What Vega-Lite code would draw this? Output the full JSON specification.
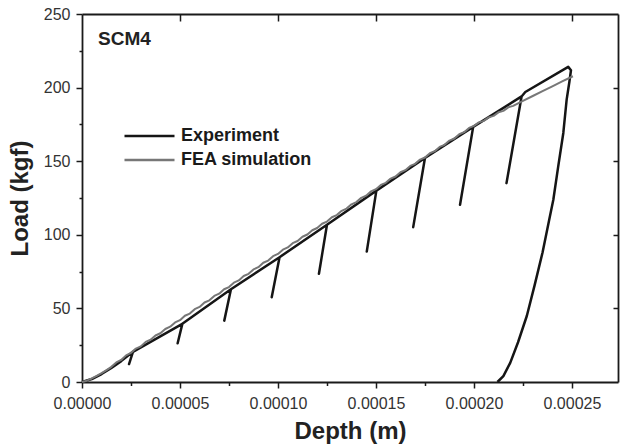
{
  "$schema": "https://vega.github.io/schema/vega-lite/v6.json",
  "width": 536,
  "height": 368,
  "autosize": "none",
  "padding": {"left": 82, "top": 14, "right": 2, "bottom": 64},
  "title": {"text": "SCM4", "anchor": "start", "orient": "top", "frame": "group", "offset": 0, "dx": 16, "dy": 58, "baseline": "alphabetic", "font": "Liberation Sans", "fontSize": 19, "fontWeight": "bold", "color": "#222222"},
  "datasets": {
    "exp": [
      {"series": "Experiment", "i": 0, "x": 0, "y": 0},
      {"series": "Experiment", "i": 1, "x": 0.000005, "y": 2.0},
      {"series": "Experiment", "i": 2, "x": 0.00001, "y": 5.4},
      {"series": "Experiment", "i": 3, "x": 0.000015, "y": 9.6},
      {"series": "Experiment", "i": 4, "x": 0.00002, "y": 14.2},
      {"series": "Experiment", "i": 5, "x": 0.000026, "y": 20.5},
      {"series": "Experiment", "i": 6, "x": 0.000024, "y": 12.2},
      {"series": "Experiment", "i": 7, "x": 0.000026, "y": 20.5},
      {"series": "Experiment", "i": 8, "x": 0.0000512, "y": 39.5},
      {"series": "Experiment", "i": 9, "x": 0.0000488, "y": 26.3},
      {"series": "Experiment", "i": 10, "x": 0.0000512, "y": 39.5},
      {"series": "Experiment", "i": 11, "x": 0.000076, "y": 63},
      {"series": "Experiment", "i": 12, "x": 0.0000726, "y": 41.7},
      {"series": "Experiment", "i": 13, "x": 0.000076, "y": 63},
      {"series": "Experiment", "i": 14, "x": 0.0001008, "y": 84.8},
      {"series": "Experiment", "i": 15, "x": 0.0000968, "y": 57.6},
      {"series": "Experiment", "i": 16, "x": 0.0001008, "y": 84.8},
      {"series": "Experiment", "i": 17, "x": 0.000125, "y": 106.8},
      {"series": "Experiment", "i": 18, "x": 0.0001209, "y": 73.5},
      {"series": "Experiment", "i": 19, "x": 0.000125, "y": 106.8},
      {"series": "Experiment", "i": 20, "x": 0.0001502, "y": 130},
      {"series": "Experiment", "i": 21, "x": 0.0001453, "y": 88.6},
      {"series": "Experiment", "i": 22, "x": 0.0001502, "y": 130},
      {"series": "Experiment", "i": 23, "x": 0.000175, "y": 152.2},
      {"series": "Experiment", "i": 24, "x": 0.000169, "y": 105.2},
      {"series": "Experiment", "i": 25, "x": 0.000175, "y": 152.2},
      {"series": "Experiment", "i": 26, "x": 0.0001996, "y": 173.3},
      {"series": "Experiment", "i": 27, "x": 0.0001929, "y": 120.4},
      {"series": "Experiment", "i": 28, "x": 0.0001996, "y": 173.3},
      {"series": "Experiment", "i": 29, "x": 0.0002243, "y": 194},
      {"series": "Experiment", "i": 30, "x": 0.0002166, "y": 135.1},
      {"series": "Experiment", "i": 31, "x": 0.0002243, "y": 194},
      {"series": "Experiment", "i": 32, "x": 0.0002262, "y": 197},
      {"series": "Experiment", "i": 33, "x": 0.0002481, "y": 214.1},
      {"series": "Experiment", "i": 34, "x": 0.0002495, "y": 211.8},
      {"series": "Experiment", "i": 35, "x": 0.0002487, "y": 204},
      {"series": "Experiment", "i": 36, "x": 0.0002473, "y": 191.8},
      {"series": "Experiment", "i": 37, "x": 0.0002456, "y": 169.2},
      {"series": "Experiment", "i": 38, "x": 0.000243, "y": 146.5},
      {"series": "Experiment", "i": 39, "x": 0.0002405, "y": 123.8},
      {"series": "Experiment", "i": 40, "x": 0.0002384, "y": 110.2},
      {"series": "Experiment", "i": 41, "x": 0.000235, "y": 88},
      {"series": "Experiment", "i": 42, "x": 0.000231, "y": 66},
      {"series": "Experiment", "i": 43, "x": 0.000227, "y": 45},
      {"series": "Experiment", "i": 44, "x": 0.0002225, "y": 27},
      {"series": "Experiment", "i": 45, "x": 0.0002185, "y": 13},
      {"series": "Experiment", "i": 46, "x": 0.000215, "y": 4},
      {"series": "Experiment", "i": 47, "x": 0.000212, "y": 0}
    ],
    "fea": [
      {"series": "FEA simulation", "x": 0, "y": 0},
      {"series": "FEA simulation", "x": 0.0000025, "y": 0.9},
      {"series": "FEA simulation", "x": 0.000005, "y": 2.4},
      {"series": "FEA simulation", "x": 0.0000075, "y": 4.1},
      {"series": "FEA simulation", "x": 0.00001, "y": 6.0},
      {"series": "FEA simulation", "x": 0.0000125, "y": 8.1},
      {"series": "FEA simulation", "x": 0.000015, "y": 10.3},
      {"series": "FEA simulation", "x": 0.0000175, "y": 13.3},
      {"series": "FEA simulation", "x": 0.00002, "y": 15.0},
      {"series": "FEA simulation", "x": 0.0000225, "y": 18.1},
      {"series": "FEA simulation", "x": 0.000025, "y": 19.8},
      {"series": "FEA simulation", "x": 0.0000275, "y": 22.7},
      {"series": "FEA simulation", "x": 0.00003, "y": 24.2},
      {"series": "FEA simulation", "x": 0.0000325, "y": 27.2},
      {"series": "FEA simulation", "x": 0.000035, "y": 28.7},
      {"series": "FEA simulation", "x": 0.0000375, "y": 31.6},
      {"series": "FEA simulation", "x": 0.00004, "y": 33.1},
      {"series": "FEA simulation", "x": 0.0000425, "y": 36.0},
      {"series": "FEA simulation", "x": 0.000045, "y": 37.6},
      {"series": "FEA simulation", "x": 0.0000475, "y": 40.5},
      {"series": "FEA simulation", "x": 0.00005, "y": 42.0},
      {"series": "FEA simulation", "x": 0.0000525, "y": 45.0},
      {"series": "FEA simulation", "x": 0.000055, "y": 46.5},
      {"series": "FEA simulation", "x": 0.0000575, "y": 49.5},
      {"series": "FEA simulation", "x": 0.00006, "y": 51.0},
      {"series": "FEA simulation", "x": 0.0000625, "y": 54.0},
      {"series": "FEA simulation", "x": 0.000065, "y": 55.5},
      {"series": "FEA simulation", "x": 0.0000675, "y": 58.5},
      {"series": "FEA simulation", "x": 0.00007, "y": 60.0},
      {"series": "FEA simulation", "x": 0.0000725, "y": 63.0},
      {"series": "FEA simulation", "x": 0.000075, "y": 64.5},
      {"series": "FEA simulation", "x": 0.0000775, "y": 67.5},
      {"series": "FEA simulation", "x": 0.00008, "y": 69.0},
      {"series": "FEA simulation", "x": 0.0000825, "y": 72.0},
      {"series": "FEA simulation", "x": 0.000085, "y": 73.5},
      {"series": "FEA simulation", "x": 0.0000875, "y": 76.5},
      {"series": "FEA simulation", "x": 0.00009, "y": 78.0},
      {"series": "FEA simulation", "x": 0.0000925, "y": 81.0},
      {"series": "FEA simulation", "x": 0.000095, "y": 82.5},
      {"series": "FEA simulation", "x": 0.0000975, "y": 85.5},
      {"series": "FEA simulation", "x": 0.0001, "y": 87.0},
      {"series": "FEA simulation", "x": 0.0001025, "y": 89.9},
      {"series": "FEA simulation", "x": 0.000105, "y": 91.4},
      {"series": "FEA simulation", "x": 0.0001075, "y": 94.3},
      {"series": "FEA simulation", "x": 0.00011, "y": 95.8},
      {"series": "FEA simulation", "x": 0.0001125, "y": 98.7},
      {"series": "FEA simulation", "x": 0.000115, "y": 100.2},
      {"series": "FEA simulation", "x": 0.0001175, "y": 103.1},
      {"series": "FEA simulation", "x": 0.00012, "y": 104.6},
      {"series": "FEA simulation", "x": 0.0001225, "y": 107.5},
      {"series": "FEA simulation", "x": 0.000125, "y": 109.0},
      {"series": "FEA simulation", "x": 0.0001275, "y": 111.9},
      {"series": "FEA simulation", "x": 0.00013, "y": 113.4},
      {"series": "FEA simulation", "x": 0.0001325, "y": 116.3},
      {"series": "FEA simulation", "x": 0.000135, "y": 117.8},
      {"series": "FEA simulation", "x": 0.0001375, "y": 120.7},
      {"series": "FEA simulation", "x": 0.00014, "y": 122.2},
      {"series": "FEA simulation", "x": 0.0001425, "y": 125.1},
      {"series": "FEA simulation", "x": 0.000145, "y": 126.6},
      {"series": "FEA simulation", "x": 0.0001475, "y": 129.5},
      {"series": "FEA simulation", "x": 0.00015, "y": 131.0},
      {"series": "FEA simulation", "x": 0.0001525, "y": 133.9},
      {"series": "FEA simulation", "x": 0.000155, "y": 135.3},
      {"series": "FEA simulation", "x": 0.0001575, "y": 138.2},
      {"series": "FEA simulation", "x": 0.00016, "y": 139.6},
      {"series": "FEA simulation", "x": 0.0001625, "y": 142.5},
      {"series": "FEA simulation", "x": 0.000165, "y": 143.9},
      {"series": "FEA simulation", "x": 0.0001675, "y": 146.8},
      {"series": "FEA simulation", "x": 0.00017, "y": 148.2},
      {"series": "FEA simulation", "x": 0.0001725, "y": 151.1},
      {"series": "FEA simulation", "x": 0.000175, "y": 152.5},
      {"series": "FEA simulation", "x": 0.0001775, "y": 155.4},
      {"series": "FEA simulation", "x": 0.00018, "y": 156.8},
      {"series": "FEA simulation", "x": 0.0001825, "y": 159.7},
      {"series": "FEA simulation", "x": 0.000185, "y": 161.1},
      {"series": "FEA simulation", "x": 0.0001875, "y": 164.0},
      {"series": "FEA simulation", "x": 0.00019, "y": 165.4},
      {"series": "FEA simulation", "x": 0.0001925, "y": 168.3},
      {"series": "FEA simulation", "x": 0.000195, "y": 169.7},
      {"series": "FEA simulation", "x": 0.0001975, "y": 172.6},
      {"series": "FEA simulation", "x": 0.0002, "y": 174.0},
      {"series": "FEA simulation", "x": 0.0002025, "y": 176.4},
      {"series": "FEA simulation", "x": 0.000205, "y": 177.4},
      {"series": "FEA simulation", "x": 0.0002075, "y": 179.8},
      {"series": "FEA simulation", "x": 0.00021, "y": 180.8},
      {"series": "FEA simulation", "x": 0.0002125, "y": 183.2},
      {"series": "FEA simulation", "x": 0.000215, "y": 184.2},
      {"series": "FEA simulation", "x": 0.0002175, "y": 186.6},
      {"series": "FEA simulation", "x": 0.00022, "y": 187.6},
      {"series": "FEA simulation", "x": 0.0002225, "y": 189.3},
      {"series": "FEA simulation", "x": 0.000225, "y": 191.0},
      {"series": "FEA simulation", "x": 0.00023, "y": 194.3},
      {"series": "FEA simulation", "x": 0.000235, "y": 197.6},
      {"series": "FEA simulation", "x": 0.00024, "y": 200.9},
      {"series": "FEA simulation", "x": 0.000245, "y": 204.2},
      {"series": "FEA simulation", "x": 0.0002505, "y": 207.7}
    ]
  },
  "layer": [
    {
      "data": {"name": "exp"},
      "mark": {"type": "line", "strokeWidth": 2.5, "strokeJoin": "round"},
      "encoding": {
        "x": {
          "field": "x", "type": "quantitative",
          "scale": {"domain": [0, 0.0002735], "nice": false, "zero": false},
          "axis": {
            "orient": "bottom",
            "values": [0, 0.000025, 0.00005, 0.000075, 0.0001, 0.000125, 0.00015, 0.000175, 0.0002, 0.000225, 0.00025],
            "labelExpr": "abs(datum.value/0.00005 - round(datum.value/0.00005)) < 0.01 ? format(datum.value, '.5f') : ''",
            "tickSize": {"condition": {"test": "abs(datum.value/0.00005 - round(datum.value/0.00005)) < 0.01", "value": 6}, "value": 3.5},
            "labelPadding": 7,
            "title": "Depth (m)",
            "titleY": 56,
            "titleBaseline": "alphabetic"
          }
        },
        "y": {
          "field": "y", "type": "quantitative",
          "scale": {"domain": [0, 250], "nice": false, "zero": false},
          "axis": {
            "orient": "left",
            "values": [0, 25, 50, 75, 100, 125, 150, 175, 200, 225, 250],
            "labelExpr": "datum.value % 50 == 0 ? format(datum.value, 'd') : ''",
            "tickSize": {"condition": {"test": "datum.value % 50 == 0", "value": 6}, "value": 3},
            "labelPadding": 6,
            "title": "Load (kgf)",
            "titleX": -55,
            "titleY": 184,
            "titleBaseline": "alphabetic"
          }
        },
        "order": {"field": "i", "type": "quantitative"},
        "color": {
          "field": "series", "type": "nominal",
          "scale": {"domain": ["Experiment", "FEA simulation"], "range": ["#151515", "#777777"]},
          "legend": {
            "orient": "none", "legendX": 41, "legendY": 110, "title": null,
            "symbolType": "stroke", "symbolSize": 2500, "symbolStrokeWidth": 2.3,
            "clipHeight": 24, "labelFont": "Liberation Sans", "labelFontSize": 18,
            "labelFontWeight": "bold", "labelColor": "#1a1a1a", "labelOffset": 5,
            "padding": 0, "rowPadding": 0
          }
        }
      }
    },
    {
      "data": {"name": "fea"},
      "mark": {"type": "line", "strokeWidth": 2, "strokeJoin": "round"},
      "encoding": {
        "x": {
          "field": "x", "type": "quantitative",
          "scale": {"domain": [0, 0.0002735], "nice": false, "zero": false},
          "axis": {
            "orient": "top",
            "values": [0.00005, 0.0001, 0.00015, 0.0002, 0.00025],
            "labels": false, "tickSize": -7, "title": null
          }
        },
        "y": {
          "field": "y", "type": "quantitative",
          "scale": {"domain": [0, 250], "nice": false, "zero": false},
          "axis": {
            "orient": "right",
            "values": [50, 100, 150, 200],
            "labels": false, "tickSize": -5, "title": null
          }
        },
        "color": {
          "field": "series", "type": "nominal",
          "scale": {"domain": ["Experiment", "FEA simulation"], "range": ["#151515", "#777777"]},
          "legend": {
            "orient": "none", "legendX": 41, "legendY": 110, "title": null,
            "symbolType": "stroke", "symbolSize": 2500, "symbolStrokeWidth": 2.3,
            "clipHeight": 24, "labelFont": "Liberation Sans", "labelFontSize": 18,
            "labelFontWeight": "bold", "labelColor": "#1a1a1a", "labelOffset": 5,
            "padding": 0, "rowPadding": 0
          }
        }
      }
    }
  ],
  "resolve": {"axis": {"x": "independent", "y": "independent"}},
  "config": {
    "view": {"stroke": null},
    "axis": {
      "domainColor": "#1a1a1a", "domainWidth": 1.8,
      "tickColor": "#1a1a1a", "tickWidth": 1.5,
      "labelFont": "Liberation Sans", "labelFontSize": 16, "labelColor": "#333333",
      "titleFont": "Liberation Sans", "titleFontSize": 24, "titleFontWeight": "bold", "titleColor": "#222222",
      "grid": false, "labelFlush": false, "labelOverlap": false
    }
  }
}
